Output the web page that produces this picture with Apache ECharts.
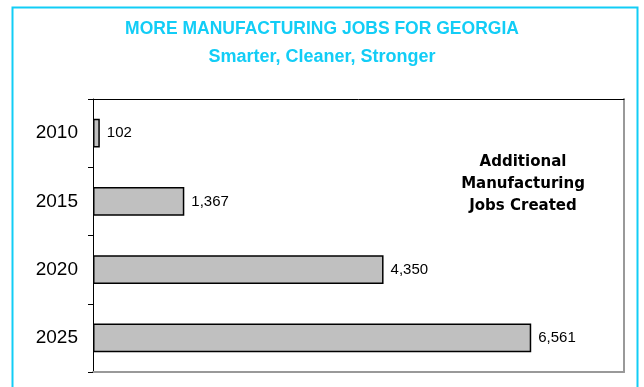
<!DOCTYPE html>
<html>
<head>
<meta charset="utf-8">
<script src="https://cdn.jsdelivr.net/npm/echarts@6/dist/echarts.min.js"></script>
<style>
  html, body { margin: 0; padding: 0; background: #fff; }
  #chart { width: 644px; height: 387px; }
</style>
</head>
<body>
<div id="chart"></div>
<script>
// Additional manufacturing jobs by year
const years = ['2010', '2015', '2020', '2025'];
const jobs = [102, 1367, 4350, 6561];
const titleText = 'MORE MANUFACTURING JOBS FOR GEORGIA';
const subtitleText = 'Smarter, Cleaner, Stronger';
const noteLines = ['Additional', 'Manufacturing', 'Jobs Created'];

const cyan = '#12CDF6';
const chart = echarts.init(document.getElementById('chart'));

chart.setOption({
  animation: false,
  backgroundColor: '#fff',
  grid: { left: 93, top: 99, right: 20, bottom: 15 },
  xAxis: [
    {
      type: 'value', min: 0, max: 7950, position: 'top',
      axisLine: { show: true, lineStyle: { color: '#000', width: 1 } },
      axisTick: { show: false }, axisLabel: { show: false }, splitLine: { show: false }
    },
    {
      type: 'value', min: 0, max: 7950, position: 'bottom',
      axisLine: { show: true, lineStyle: { color: '#999', width: 2 } },
      axisTick: { show: false }, axisLabel: { show: false }, splitLine: { show: false }
    }
  ],
  yAxis: [
    {
      type: 'category', data: years, inverse: true,
      axisLine: { show: true, onZero: false, lineStyle: { color: '#000', width: 1 } },
      axisTick: { show: true, length: 5, lineStyle: { color: '#000' } },
      axisLabel: { margin: 15, color: '#000', fontSize: 19, fontFamily: 'Liberation Sans, Arial, sans-serif' }
    },
    {
      type: 'category', data: years, inverse: true, position: 'right',
      axisLine: { show: true, onZero: false, lineStyle: { color: '#999', width: 2 } },
      axisTick: { show: false }, axisLabel: { show: false }
    }
  ],
  series: [{
    type: 'bar',
    data: jobs,
    barWidth: '42%',
    itemStyle: { color: '#C0C0C0', borderColor: '#000', borderWidth: 1.5 },
    label: {
      show: true, position: 'right', distance: 7,
      color: '#000', fontSize: 15, fontFamily: 'Liberation Sans, Arial, sans-serif',
      formatter: p => p.value.toLocaleString('en-US')
    }
  }],
  graphic: [
    {
      type: 'rect', silent: true,
      shape: { x: 12.5, y: 7.5, width: 625, height: 400 },
      style: { fill: 'none', stroke: cyan, lineWidth: 2 }
    },
    {
      type: 'text', x: 322, y: 29,
      style: {
        text: titleText, fill: cyan, align: 'center', verticalAlign: 'middle',
        font: 'bold 17.5px "Liberation Sans", Arial, sans-serif'
      }
    },
    {
      type: 'text', x: 322, y: 57,
      style: {
        text: subtitleText, fill: cyan, align: 'center', verticalAlign: 'middle',
        font: 'bold 18px "Liberation Sans", Arial, sans-serif'
      }
    },
    {
      type: 'text', x: 523, y: 184,
      style: {
        text: noteLines.join('\n'), fill: '#000', align: 'center', verticalAlign: 'middle',
        lineHeight: 22,
        font: 'bold 15px "DejaVu Sans", sans-serif'
      }
    }
  ]
});
</script>
</body>
</html>
